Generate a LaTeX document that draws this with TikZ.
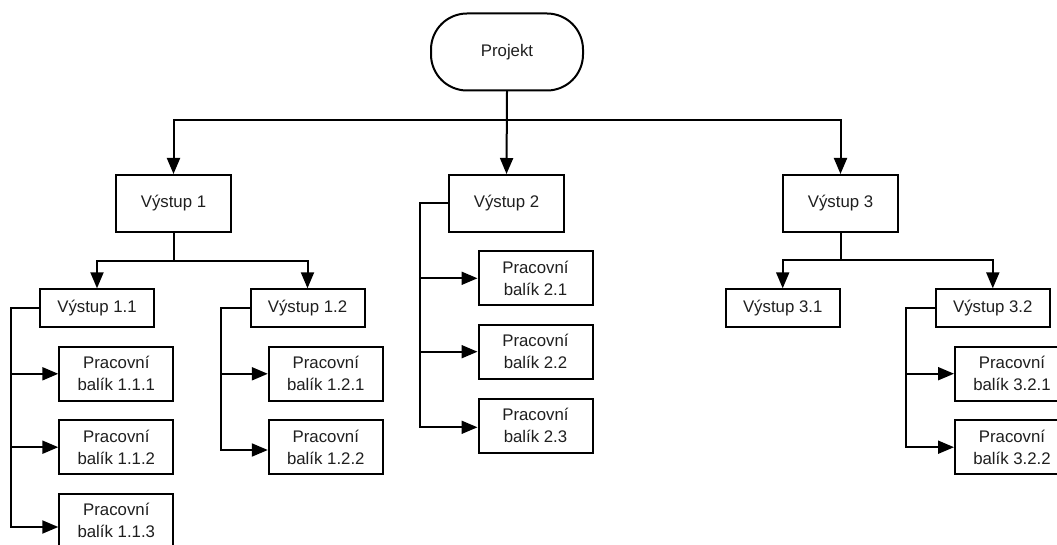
\documentclass[tikz,border=0pt]{standalone}
\usepackage{fontspec}
\setmainfont{Liberation Sans}
\usetikzlibrary{arrows.meta}
\begin{document}
\begin{tikzpicture}[x=1pt,y=-1pt,
  every node/.style={font=\fontsize{16.8}{22}\selectfont, text=black!88, align=center, inner sep=0pt},
  box/.style={draw=black, line width=2pt, fill=white},
  outbox/.style={box, minimum width=115pt, minimum height=57pt},
  subbox/.style={box, minimum width=114pt, minimum height=38pt},
  wpbox/.style={box, minimum width=114pt, minimum height=54pt},
  link/.style={draw=black, line width=2pt},
  arr/.style={link, -{Triangle[length=16pt,width=13pt]}}]
\useasboundingbox (0,0) rectangle (1057,545);
\begin{scope}
\clip (0,0) rectangle (1057,545);

% root
\node[box, minimum width=152pt, minimum height=77pt, rounded corners=36pt] (proj) at (507,52) {Projekt};

% deliverables
\node[outbox] (v1) at (173.5,203.5) {Výstup 1};
\node[outbox] (v2) at (506.5,203.5) {Výstup 2};
\node[outbox] (v3) at (840.5,203.5) {Výstup 3};

% sub-deliverables
\node[subbox] (v11) at (97,308.3) {Výstup 1.1};
\node[subbox] (v12) at (307.5,308.3) {Výstup 1.2};
\node[subbox] (v31) at (782.7,308.3) {Výstup 3.1};
\node[subbox] (v32) at (992.8,308.3) {Výstup 3.2};

% work packages
\node[wpbox] (p111) at (116.3,373.8) {Pracovní\\balík 1.1.1};
\node[wpbox] (p112) at (116.3,447.2) {Pracovní\\balík 1.1.2};
\node[wpbox] (p113) at (116.3,520.5) {Pracovní\\balík 1.1.3};
\node[wpbox] (p121) at (325.8,373.8) {Pracovní\\balík 1.2.1};
\node[wpbox] (p122) at (325.8,447.2) {Pracovní\\balík 1.2.2};
\node[wpbox] (p21) at (535.5,278.3) {Pracovní\\balík 2.1};
\node[wpbox] (p22) at (535.5,351.7) {Pracovní\\balík 2.2};
\node[wpbox] (p23) at (535.5,425.5) {Pracovní\\balík 2.3};
\node[wpbox] (p321) at (1012,373.7) {Pracovní\\balík 3.2.1};
\node[wpbox] (p322) at (1012,447.2) {Pracovní\\balík 3.2.2};

% root to deliverables
\draw[arr] (proj.south) -- ++(0,29) -| (v1.north);
\draw[arr] (proj.south) -- ++(0,29) -| (v3.north);
\draw[arr] (proj.south) -- (v2.north);

% deliverable 1 to its sub-deliverables
\draw[arr] (v1.south) -- ++(0,28) -| (v11.north);
\draw[arr] (v1.south) -- ++(0,28) -| (v12.north);

% deliverable 3 to its sub-deliverables
\draw[arr] (v3.south) -- ++(0,27.5) -| (v31.north);
\draw[arr] (v3.south) -- ++(0,27.5) -| (v32.north);

% side buses to work packages
\coordinate (b11) at ([xshift=-28.3pt]v11.west);
\draw[arr] (v11.west) -- (b11) |- (p111.west);
\draw[arr] (b11) |- (p112.west);
\draw[arr] (b11) |- ([yshift=-6.5pt]p113.west);

\coordinate (b12) at ([xshift=-28.3pt]v12.west);
\draw[arr] (v12.west) -- (b12) |- (p121.west);
\draw[arr] (b12) |- ([yshift=-2.8pt]p122.west);

\coordinate (b2) at ([xshift=-28.3pt]v2.west);
\draw[arr] (v2.west) -- (b2) |- (p21.west);
\draw[arr] (b2) |- (p22.west);
\draw[arr] (b2) |- ([yshift=-1.8pt]p23.west);

\coordinate (b32) at ([xshift=-28.4pt]v32.west);
\draw[arr] (v32.west) -- (b32) |- (p321.west);
\draw[arr] (b32) |- (p322.west);
\end{scope}
\end{tikzpicture}
\end{document}
